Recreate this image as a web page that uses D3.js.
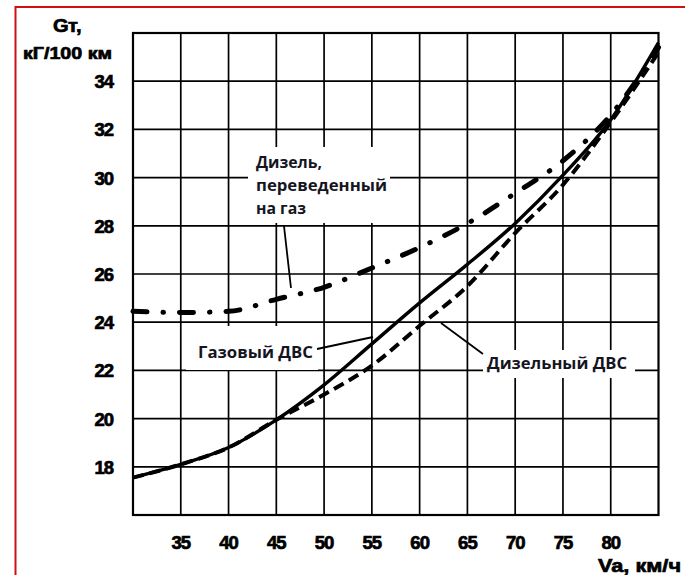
<!DOCTYPE html>
<html>
<head>
<meta charset="utf-8">
<script src="https://cdn.jsdelivr.net/npm/d3@7"></script>
<style>
  html, body { margin: 0; padding: 0; background: #fff; }
  svg { display: block; }
</style>
</head>
<body>
<svg id="chart" width="685" height="575"></svg>
<script>
// Data
const speeds      = [30, 35, 40, 45, 50, 55, 60, 65, 70, 75, 80, 85];
const gasEngine   = [17.55, 18.1, 18.8, 19.95, 21.4, 23.1, 24.8, 26.4, 28.1, 30.1, 32.4, 35.6];
const dieselEng   = [17.55, 18.1, 18.8, 19.95, 21.0, 22.2, 23.85, 25.5, 27.7, 29.7, 32.3, 35.2];
const dieselToGas = [24.45, 24.4, 24.45, 24.95, 25.45, 26.25, 27.1, 28.1, 29.35, 30.7, 32.6, 35.4];

const xTicks = [35, 40, 45, 50, 55, 60, 65, 70, 75, 80];
const yTicks = [18, 20, 22, 24, 26, 28, 30, 32, 34];
const xGrid  = [35, 40, 45, 50, 55, 60, 65, 70, 75, 80];
const yGrid  = [18, 20, 22, 24, 26, 28, 30, 32, 34];

const svg = d3.select("#chart");
const W = 685, H = 575;

svg.append("rect").attr("width", W).attr("height", H).attr("fill", "#fff");

// red frame (top + left only, image is cropped)
svg.append("line").attr("x1", 15.5).attr("x2", 15.5).attr("y1", 6).attr("y2", H)
  .attr("stroke", "#d01010").attr("stroke-width", 2);
svg.append("line").attr("x1", 15).attr("x2", W).attr("y1", 7).attr("y2", 7)
  .attr("stroke", "#d01010").attr("stroke-width", 2);

const x = d3.scaleLinear().domain([30, 85]).range([133, 658.5]);
const y = d3.scaleLinear().domain([16, 36]).range([515, 33]);

const g = svg.append("g");

// grid
g.selectAll("line.vg").data(xGrid).join("line").attr("class", "vg")
  .attr("x1", d => x(d)).attr("x2", d => x(d)).attr("y1", y(36)).attr("y2", y(16))
  .attr("stroke", "#000").attr("stroke-width", 1.7);
g.selectAll("line.hg").data(yGrid).join("line").attr("class", "hg")
  .attr("x1", x(30)).attr("x2", x(85)).attr("y1", d => y(d)).attr("y2", d => y(d))
  .attr("stroke", "#000").attr("stroke-width", 1.7);
g.append("rect")
  .attr("x", x(30)).attr("y", y(36)).attr("width", x(85) - x(30)).attr("height", y(16) - y(36))
  .attr("fill", "none").attr("stroke", "#000").attr("stroke-width", 2.2);

// tick labels (heavy scanned digits)
const tickFont = "'Liberation Sans', Arial, sans-serif";
function heavy(sel, size, ls) {
  return sel.attr("font-family", tickFont).attr("font-weight", "bold")
    .attr("font-size", size).attr("letter-spacing", ls)
    .attr("fill", "#000").attr("stroke", "#000").attr("stroke-width", 0.7);
}
heavy(svg.selectAll("text.yt").data(yTicks).join("text").attr("class", "yt")
  .attr("x", 113).attr("y", d => y(d) + 7).attr("text-anchor", "end"), 18.5, -1)
  .text(d => d);
heavy(svg.selectAll("text.xt").data(xTicks).join("text").attr("class", "xt")
  .attr("x", d => x(d)).attr("y", 549).attr("text-anchor", "middle"), 18.5, -1)
  .text(d => d);

// axis titles
heavy(svg.append("text").attr("x", 53).attr("y", 32), 19, -0.5)
  .attr("textLength", 28).attr("lengthAdjust", "spacingAndGlyphs").text("Gт,");
heavy(svg.append("text").attr("x", 23).attr("y", 59), 17, 0)
  .attr("textLength", 89).attr("lengthAdjust", "spacingAndGlyphs").text("кГ/100 км");
heavy(svg.append("text").attr("x", 598).attr("y", 572), 19, 0)
  .attr("textLength", 83).attr("lengthAdjust", "spacingAndGlyphs").text("Va, км/ч");

// curves
const line = d3.line().x((d, i) => x(speeds[i])).y(d => y(d)).curve(d3.curveMonotoneX);

g.append("path").datum(dieselToGas).attr("d", line)
  .attr("fill", "none").attr("stroke", "#000").attr("stroke-width", 5)
  .attr("stroke-linecap", "round").attr("stroke-dasharray", "14,16,0.5,16");
g.append("path").datum(dieselEng).attr("d", line)
  .attr("fill", "none").attr("stroke", "#000").attr("stroke-width", 4)
  .attr("stroke-dasharray", "11,6");
g.append("path").datum(gasEngine).attr("d", line)
  .attr("fill", "none").attr("stroke", "#000").attr("stroke-width", 3.4);

// annotations
const noteFont = "'Open Sans', 'Noto Sans', sans-serif";
function note(box, lines, tx, ty, dy, widths) {
  svg.append("rect").attr("x", box[0]).attr("y", box[1]).attr("width", box[2]).attr("height", box[3])
    .attr("fill", "#fff");
  lines.forEach((t, i) => {
    svg.append("text").attr("x", tx).attr("y", ty + i * dy)
      .attr("font-family", noteFont).attr("font-weight", 700).attr("font-size", 16)
      .attr("textLength", widths[i]).attr("lengthAdjust", "spacingAndGlyphs")
      .attr("fill", "#15151f").text(t);
  });
}
note([248, 147, 142, 76], ["Дизель,", "переведенный", "на газ"], 256, 168, 23, [66, 131, 50]);
note([186, 326, 132, 44], ["Газовый ДВС"], 198, 358, 0, [115]);
note([483, 350, 152, 28], ["Дизельный ДВС"], 487, 369, 0, [140]);

// leader lines
const leaders = [
  [[284, 226], [291, 288]],
  [[317, 349], [373, 337]],
  [[441, 323], [483, 354]]
];
leaders.forEach(l => {
  svg.append("line").attr("x1", l[0][0]).attr("y1", l[0][1]).attr("x2", l[1][0]).attr("y2", l[1][1])
    .attr("stroke", "#000").attr("stroke-width", 1.8);
});
</script>
</body>
</html>
